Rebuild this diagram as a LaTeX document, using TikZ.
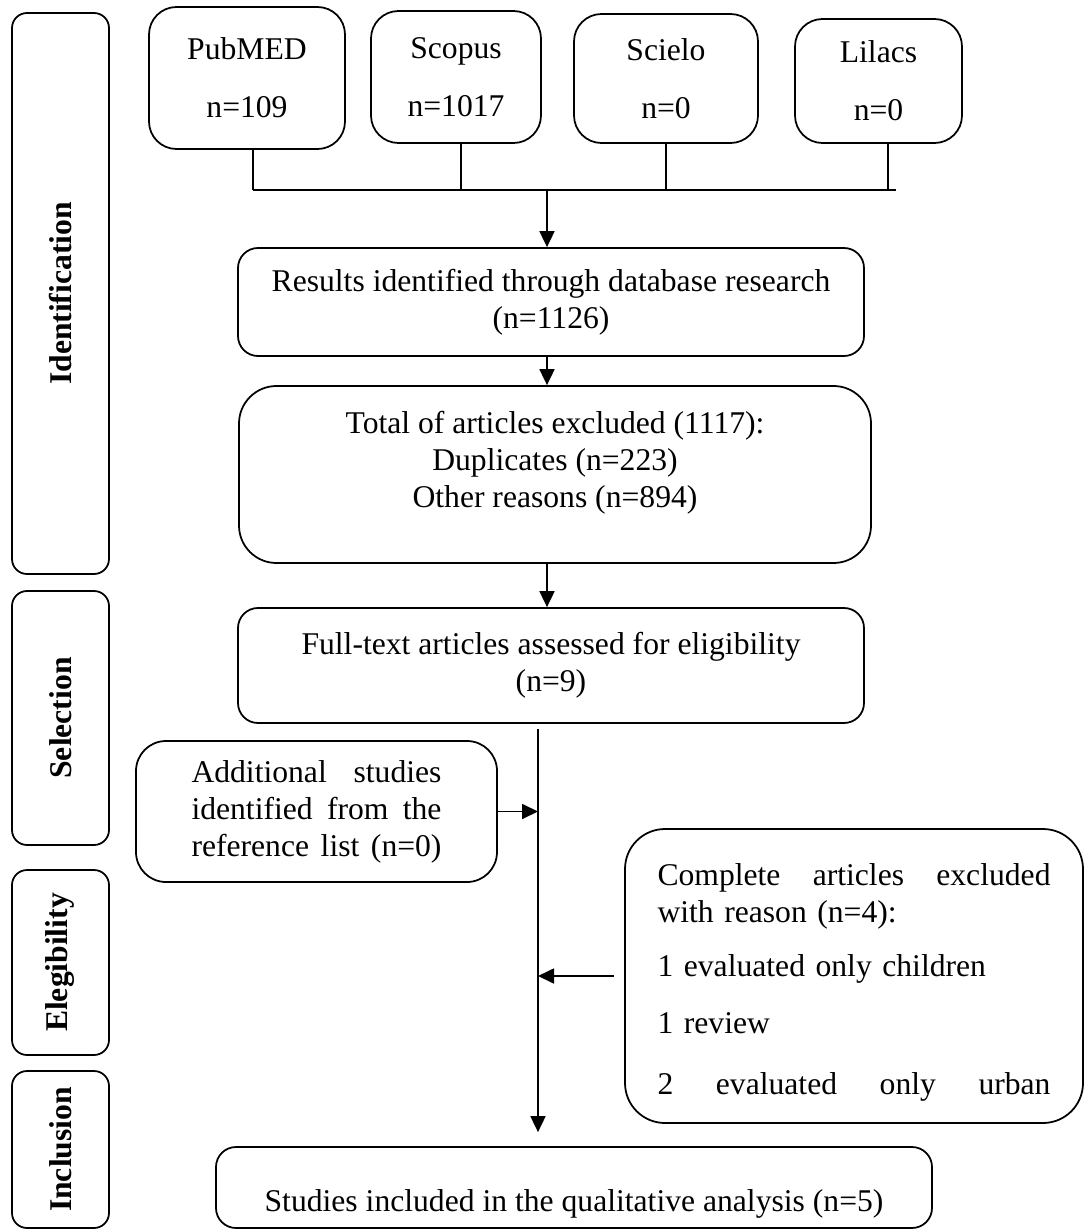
\documentclass[tikz,border=0pt]{standalone}
\usepackage{fontspec}
\setmainfont{Liberation Serif}
\usepackage{tikz}
\usetikzlibrary{arrows.meta,calc}
\tikzstyle{stagebox}=[draw, line width=1pt, rounded corners=0.3cm, rotate=90, minimum height=1.94cm, inner sep=0pt, font=\fontsize{18}{21}\selectfont\bfseries]
\tikzstyle{dbbox}=[draw, line width=1pt, rounded corners=0.55cm, align=center, inner sep=0pt]
\tikzstyle{flowbox}=[draw, line width=1pt, rounded corners=0.4cm, align=center, inner sep=0pt]
\tikzstyle{link}=[line width=1pt]
\tikzstyle{arr}=[line width=1pt, -{Triangle[length=0.32cm,width=0.3cm]}]

\begin{document}
\begin{tikzpicture}[every node/.style={font=\fontsize{18}{21}\selectfont}]
	\useasboundingbox (0,0) rectangle (21.68,-24.6);
	% stages
	\node[stagebox, minimum width=11.22cm] (ident) at (1.21,-5.87) {Identification};
	\node[stagebox, minimum width=5.08cm] (select) at (1.21,-14.36) {Selection};
	\node[stagebox, minimum width=3.7cm] (elig) at (1.21,-19.25) {Elegibility};
	\node[stagebox, minimum width=3.14cm] (incl) at (1.21,-22.99) {Inclusion};
	% databases
	\node[dbbox, minimum width=3.92cm, minimum height=2.84cm] (pubmed) at (4.94,-1.56) {PubMED\\[12pt]n=109};
	\node[dbbox, minimum width=3.4cm, minimum height=2.64cm] (scopus) at (9.12,-1.54) {Scopus\\[12pt]n=1017};
	\node[dbbox, minimum width=3.68cm, minimum height=2.58cm] (scielo) at (13.32,-1.57) {Scielo\\[12pt]n=0};
	\node[dbbox, minimum width=3.34cm, minimum height=2.48cm] (lilacs) at (17.57,-1.62) {Lilacs\\[12pt]n=0};
	\coordinate (busL) at (5.06,-3.8);
	\coordinate (busR) at (17.92,-3.8);
	\coordinate (join) at (10.94,-3.8);
	\draw[link] ([xshift=0.12cm]pubmed.south) -- (busL);
	\draw[link] ([xshift=0.1cm]scopus.south) -- ([xshift=0.1cm]scopus.south |- busL);
	\draw[link] (scielo.south) -- (scielo.south |- busL);
	\draw[link] ([xshift=0.19cm]lilacs.south) -- ([xshift=0.19cm]lilacs.south |- busR);
	\draw[link] (busL) -- (busR);
	% flow
	\node[flowbox, minimum width=12.52cm, minimum height=2.16cm] (results) at (11.02,-6.04) {Results identified through database research\\(n=1126)};
	\node[flowbox, rounded corners=0.75cm, minimum width=12.64cm, minimum height=3.54cm] (total) at (11.1,-9.49) {Total of articles excluded (1117):\\Duplicates (n=223)\\Other reasons (n=894)\\[-4pt]\mbox{}};
	\node[flowbox, minimum width=12.52cm, minimum height=2.3cm] (fulltext) at (11.02,-13.31) {Full-text articles assessed for eligibility\\(n=9)};
	\node[flowbox, rounded corners=0.6cm, minimum width=7.22cm, minimum height=2.82cm, text width=5cm, align=left] (additional) at (6.33,-16.23) {Additional\hfill studies\\identified\hfill from\hfill the\\reference\hfill list\hfill (n=0)};
	\node[flowbox, rounded corners=0.8cm, minimum width=9.16cm, minimum height=5.88cm, text width=7.86cm, align=left] (excluded) at (17.08,-19.52) {\mbox{}\\[-1pt]Complete\hfill articles\hfill excluded\\with reason (n=4):\\[10pt]1 evaluated only children\\[11pt]1 review\\[14pt]2\hfill evaluated\hfill only\hfill urban};
	\node[flowbox, minimum width=14.32cm, minimum height=1.62cm] (final) at (11.48,-23.75) {\raisebox{-9pt}[13.5pt][4pt]{Studies included in the qualitative analysis (n=5)}};
	\draw[arr] (join) -- (join |- results.north);
	\draw[arr] (results.south -| join) -- (total.north -| join);
	\draw[arr] (total.south -| join) -- (fulltext.north -| join);
	\coordinate (trunk) at (10.76,-14.58);
	\draw[arr, shorten >=0.28cm] (trunk) -- (trunk |- final.north);
	\draw[arr] (additional.east) -- (additional.east -| trunk);
	\draw[arr, shorten <=0.2cm] (excluded.west) -- (excluded.west -| trunk);
\end{tikzpicture}
\end{document}
